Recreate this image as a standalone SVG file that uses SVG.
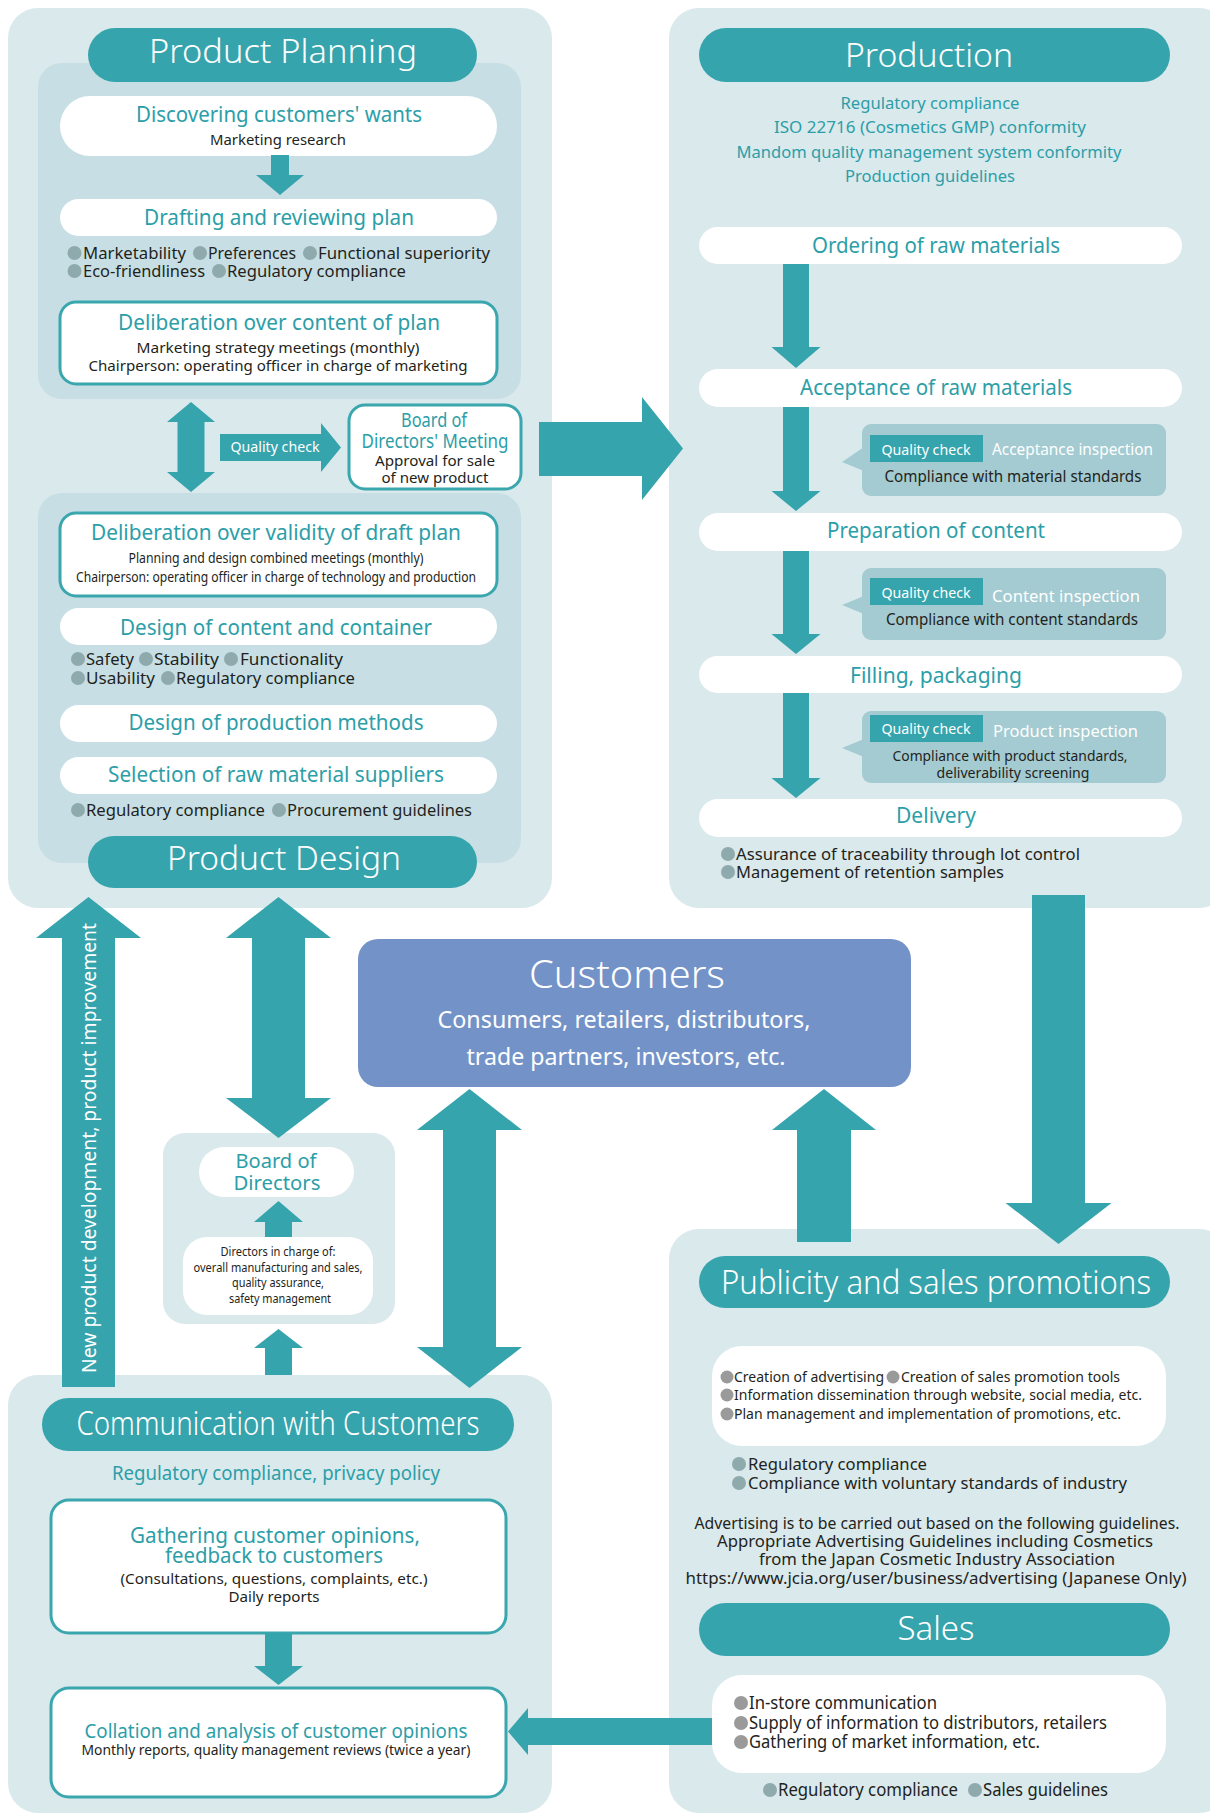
<svg xmlns="http://www.w3.org/2000/svg" width="1210" height="1814" viewBox="0 0 1210 1814">
<style>
text { font-family: "Noto Sans", "Open Sans", "DejaVu Sans", sans-serif; }
.c { text-anchor: middle; }
.h { font-size: 33px; fill: #fff; text-anchor: middle; font-weight: 300; }
.tl { fill: #2c9ea8; }
.k { fill: #231f20; }
.w { fill: #fff; }
.outer { fill: #d9e9ec; }
.inner { fill: #c7dfe4; }
.pill { fill: #fff; }
.bx { fill: #fff; stroke: #3aa6ae; stroke-width: 3; }
.hdr { fill: #36a4ad; }
.qc { fill: #a3cbd1; }
.tag { fill: #36a4ad; }
.dot { fill: #8eaaad; }
.gdot { fill: #9a9a9a; }
.arrow { fill: #36a4ad; }
.f21 { font-size: 21px; }
.f19 { font-size: 19px; }
.f17 { font-size: 17px; }
.f16 { font-size: 16px; }
.f15 { font-size: 15px; }
.f14 { font-size: 14px; }
.f13 { font-size: 13px; }
</style>

<!-- Containers -->
<g id="product-planning-panel">
  <rect class="outer" x="8" y="8" width="544" height="900" rx="30"/>
  <rect class="inner" x="38" y="63" width="483" height="336" rx="24"/>
  <rect class="inner" x="38" y="493" width="483" height="370" rx="24"/>
</g>
<g id="production-panel">
  <rect class="outer" x="669" y="8" width="560" height="900" rx="30"/>
</g>
<g id="board-panel">
  <rect class="outer" x="163" y="1133" width="232" height="191" rx="22"/>
</g>
<g id="communication-panel">
  <rect class="outer" x="8" y="1375" width="544" height="438" rx="30"/>
</g>
<g id="publicity-panel">
  <rect class="outer" x="669" y="1229" width="560" height="584" rx="30"/>
</g>

<!-- Product Planning -->
<g id="product-planning-header">
  <rect class="hdr" x="88" y="28" width="389" height="54" rx="27"/>
  <text class="h" x="283" y="63" textLength="268" lengthAdjust="spacingAndGlyphs">Product Planning</text>
</g>
<g id="discovering">
  <rect class="pill" x="60" y="96" width="437" height="60" rx="30"/>
  <text class="c tl f21" x="279" y="122" textLength="286" lengthAdjust="spacingAndGlyphs">Discovering customers' wants</text>
  <text class="c k f15" x="278" y="145" textLength="136" lengthAdjust="spacingAndGlyphs">Marketing research</text>
</g>
<g id="drafting">
  <rect class="pill" x="60" y="199" width="437" height="37" rx="18.5"/>
  <text class="c tl f21" x="279" y="225" textLength="270" lengthAdjust="spacingAndGlyphs">Drafting and reviewing plan</text>
  <circle class="dot" cx="74.5" cy="253" r="7"/>
  <text class="k f17" x="83" y="259" textLength="103" lengthAdjust="spacingAndGlyphs">Marketability</text>
  <circle class="dot" cx="200" cy="253" r="7"/>
  <text class="k f17" x="208" y="259" textLength="88" lengthAdjust="spacingAndGlyphs">Preferences</text>
  <circle class="dot" cx="310" cy="253" r="7"/>
  <text class="k f17" x="318" y="259" textLength="172" lengthAdjust="spacingAndGlyphs">Functional superiority</text>
  <circle class="dot" cx="74.5" cy="271" r="7"/>
  <text class="k f17" x="83" y="277" textLength="122" lengthAdjust="spacingAndGlyphs">Eco-friendliness</text>
  <circle class="dot" cx="219" cy="271" r="7"/>
  <text class="k f17" x="227" y="277" textLength="179" lengthAdjust="spacingAndGlyphs">Regulatory compliance</text>
</g>
<g id="deliberation-content">
  <rect class="bx" x="60" y="302" width="437" height="82" rx="16"/>
  <text class="c tl f21" x="279" y="330" textLength="322" lengthAdjust="spacingAndGlyphs">Deliberation over content of plan</text>
  <text class="c k f15" x="278" y="353" textLength="283" lengthAdjust="spacingAndGlyphs">Marketing strategy meetings (monthly)</text>
  <text class="c k f15" x="278" y="371" textLength="379" lengthAdjust="spacingAndGlyphs">Chairperson: operating officer in charge of marketing</text>
</g>
<g id="bod-meeting">
  <rect class="bx" x="349" y="405" width="172" height="84" rx="16"/>
  <text class="c tl f19" x="434" y="427" textLength="66" lengthAdjust="spacingAndGlyphs">Board of</text>
  <text class="c tl f19" x="435" y="448" textLength="147" lengthAdjust="spacingAndGlyphs">Directors' Meeting</text>
  <text class="c k f15" x="435" y="466" textLength="120" lengthAdjust="spacingAndGlyphs">Approval for sale</text>
  <text class="c k f15" x="435" y="483" textLength="107" lengthAdjust="spacingAndGlyphs">of new product</text>
</g>

<!-- Product Design -->
<g id="deliberation-validity">
  <rect class="bx" x="60" y="513" width="437" height="83" rx="16"/>
  <text class="c tl f21" x="276" y="540" textLength="370" lengthAdjust="spacingAndGlyphs">Deliberation over validity of draft plan</text>
  <text class="c k f14" x="276" y="563" textLength="295" lengthAdjust="spacingAndGlyphs">Planning and design combined meetings (monthly)</text>
  <text class="c k f14" x="276" y="582" textLength="400" lengthAdjust="spacingAndGlyphs">Chairperson: operating officer in charge of technology and production</text>
</g>
<g id="design-content">
  <rect class="pill" x="60" y="608" width="437" height="37" rx="18.5"/>
  <text class="c tl f21" x="276" y="635" textLength="312" lengthAdjust="spacingAndGlyphs">Design of content and container</text>
  <circle class="dot" cx="78" cy="659" r="7"/>
  <text class="k f17" x="86" y="665" textLength="48" lengthAdjust="spacingAndGlyphs">Safety</text>
  <circle class="dot" cx="146" cy="659" r="7"/>
  <text class="k f17" x="154" y="665" textLength="65" lengthAdjust="spacingAndGlyphs">Stability</text>
  <circle class="dot" cx="231" cy="659" r="7"/>
  <text class="k f17" x="240" y="665" textLength="103" lengthAdjust="spacingAndGlyphs">Functionality</text>
  <circle class="dot" cx="78" cy="678" r="7"/>
  <text class="k f17" x="86" y="684" textLength="69" lengthAdjust="spacingAndGlyphs">Usability</text>
  <circle class="dot" cx="168" cy="678" r="7"/>
  <text class="k f17" x="176" y="684" textLength="179" lengthAdjust="spacingAndGlyphs">Regulatory compliance</text>
</g>
<g id="design-production">
  <rect class="pill" x="60" y="705" width="437" height="37" rx="18.5"/>
  <text class="c tl f21" x="276" y="730" textLength="295" lengthAdjust="spacingAndGlyphs">Design of production methods</text>
</g>
<g id="selection-suppliers">
  <rect class="pill" x="60" y="757" width="437" height="37" rx="18.5"/>
  <text class="c tl f21" x="276" y="782" textLength="336" lengthAdjust="spacingAndGlyphs">Selection of raw material suppliers</text>
  <circle class="dot" cx="78" cy="810" r="7"/>
  <text class="k f17" x="86" y="816" textLength="179" lengthAdjust="spacingAndGlyphs">Regulatory compliance</text>
  <circle class="dot" cx="279" cy="810" r="7"/>
  <text class="k f17" x="287" y="816" textLength="185" lengthAdjust="spacingAndGlyphs">Procurement guidelines</text>
</g>
<g id="product-design-header">
  <rect class="hdr" x="88" y="836" width="389" height="52" rx="26"/>
  <text class="h" x="284" y="870" textLength="234" lengthAdjust="spacingAndGlyphs">Product Design</text>
</g>

<!-- Production -->
<g id="production-header">
  <rect class="hdr" x="699" y="28" width="471" height="54" rx="27"/>
  <text class="h" x="929" y="67" textLength="168" lengthAdjust="spacingAndGlyphs">Production</text>
  <text class="c tl f17" x="930" y="109" textLength="179" lengthAdjust="spacingAndGlyphs">Regulatory compliance</text>
  <text class="c tl f17" x="930" y="133" textLength="312" lengthAdjust="spacingAndGlyphs">ISO 22716 (Cosmetics GMP) conformity</text>
  <text class="c tl f17" x="929" y="158" textLength="385" lengthAdjust="spacingAndGlyphs">Mandom quality management system conformity</text>
  <text class="c tl f17" x="930" y="182" textLength="170" lengthAdjust="spacingAndGlyphs">Production guidelines</text>
</g>
<g id="ordering">
  <rect class="pill" x="699" y="227" width="483" height="37" rx="18.5"/>
  <text class="c tl f21" x="936" y="253" textLength="248" lengthAdjust="spacingAndGlyphs">Ordering of raw materials</text>
</g>
<g id="acceptance">
  <rect class="pill" x="699" y="369" width="483" height="38" rx="19"/>
  <text class="c tl f21" x="936" y="395" textLength="272" lengthAdjust="spacingAndGlyphs">Acceptance of raw materials</text>
</g>
<g id="qc-acceptance">
  <polygon class="qc" points="864,447 842,462 864,471"/>
  <rect class="qc" x="862" y="424" width="304" height="72" rx="9"/>
  <rect class="tag" x="870" y="435" width="113" height="27"/>
  <text class="c w f15" x="926" y="455" textLength="89" lengthAdjust="spacingAndGlyphs">Quality check</text>
  <text class="w f17" x="992" y="455" textLength="161" lengthAdjust="spacingAndGlyphs">Acceptance inspection</text>
  <text class="c k f16" x="1013" y="482" textLength="257" lengthAdjust="spacingAndGlyphs">Compliance with material standards</text>
</g>
<g id="preparation">
  <rect class="pill" x="699" y="513" width="483" height="38" rx="19"/>
  <text class="c tl f21" x="936" y="538" textLength="218" lengthAdjust="spacingAndGlyphs">Preparation of content</text>
</g>
<g id="qc-content">
  <polygon class="qc" points="864,596 842,605 864,614"/>
  <rect class="qc" x="862" y="568" width="304" height="72" rx="9"/>
  <rect class="tag" x="870" y="578" width="113" height="27"/>
  <text class="c w f15" x="926" y="598" textLength="89" lengthAdjust="spacingAndGlyphs">Quality check</text>
  <text class="w f17" x="992" y="602" textLength="148" lengthAdjust="spacingAndGlyphs">Content inspection</text>
  <text class="c k f16" x="1012" y="625" textLength="252" lengthAdjust="spacingAndGlyphs">Compliance with content standards</text>
</g>
<g id="filling">
  <rect class="pill" x="699" y="656" width="483" height="37" rx="18.5"/>
  <text class="c tl f21" x="936" y="683" textLength="172" lengthAdjust="spacingAndGlyphs">Filling, packaging</text>
</g>
<g id="qc-product">
  <polygon class="qc" points="864,739 842,748 864,757"/>
  <rect class="qc" x="862" y="711" width="304" height="72" rx="9"/>
  <rect class="tag" x="870" y="715" width="113" height="27"/>
  <text class="c w f15" x="926" y="734" textLength="89" lengthAdjust="spacingAndGlyphs">Quality check</text>
  <text class="w f17" x="993" y="737" textLength="145" lengthAdjust="spacingAndGlyphs">Product inspection</text>
  <text class="c k f15" x="1010" y="761" textLength="235" lengthAdjust="spacingAndGlyphs">Compliance with product standards,</text>
  <text class="c k f15" x="1013" y="778" textLength="153" lengthAdjust="spacingAndGlyphs">deliverability screening</text>
</g>
<g id="delivery">
  <rect class="pill" x="699" y="799" width="483" height="38" rx="19"/>
  <text class="c tl f21" x="936" y="823" textLength="80" lengthAdjust="spacingAndGlyphs">Delivery</text>
  <circle class="dot" cx="728" cy="854" r="7"/>
  <text class="k f17" x="736" y="860" textLength="344" lengthAdjust="spacingAndGlyphs">Assurance of traceability through lot control</text>
  <circle class="dot" cx="728" cy="872" r="7"/>
  <text class="k f17" x="736" y="878" textLength="268" lengthAdjust="spacingAndGlyphs">Management of retention samples</text>
</g>

<!-- Customers -->
<g id="customers">
  <rect x="358" y="939" width="553" height="148" rx="20" fill="#7393c8"/>
  <text class="c w" x="627" y="988" font-size="38" font-weight="300" textLength="196" lengthAdjust="spacingAndGlyphs">Customers</text>
  <text class="c w" x="624" y="1028" font-size="23" textLength="373" lengthAdjust="spacingAndGlyphs">Consumers, retailers, distributors,</text>
  <text class="c w" x="626" y="1065" font-size="23" textLength="319" lengthAdjust="spacingAndGlyphs">trade partners, investors, etc.</text>
</g>

<!-- Board of Directors -->
<g id="board-of-directors">
  <rect class="pill" x="199" y="1147" width="155" height="50" rx="25"/>
  <text class="c tl f19" x="276" y="1168" textLength="81" lengthAdjust="spacingAndGlyphs">Board of</text>
  <text class="c tl f19" x="277" y="1190" textLength="87" lengthAdjust="spacingAndGlyphs">Directors</text>
</g>
<g id="directors-in-charge">
  <rect class="pill" x="183" y="1237" width="190" height="78" rx="24"/>
  <text class="c k f13" x="278" y="1256" textLength="115" lengthAdjust="spacingAndGlyphs">Directors in charge of:</text>
  <text class="c k f13" x="278" y="1272" textLength="169" lengthAdjust="spacingAndGlyphs">overall manufacturing and sales,</text>
  <text class="c k f13" x="278" y="1287" textLength="92" lengthAdjust="spacingAndGlyphs">quality assurance,</text>
  <text class="c k f13" x="280" y="1303" textLength="102" lengthAdjust="spacingAndGlyphs">safety management</text>
</g>

<!-- Communication with Customers -->
<g id="communication-header">
  <rect class="hdr" x="42" y="1398" width="472" height="53" rx="26.5"/>
  <text class="h" x="278" y="1435" textLength="403" lengthAdjust="spacingAndGlyphs">Communication with Customers</text>
  <text class="c tl f19" x="276" y="1480" textLength="328" lengthAdjust="spacingAndGlyphs">Regulatory compliance, privacy policy</text>
</g>
<g id="gathering">
  <rect class="bx" x="51" y="1500" width="455" height="133" rx="18"/>
  <text class="c tl f21" x="275" y="1543" textLength="290" lengthAdjust="spacingAndGlyphs">Gathering customer opinions,</text>
  <text class="c tl f21" x="274" y="1563" textLength="218" lengthAdjust="spacingAndGlyphs">feedback to customers</text>
  <text class="c k f15" x="274" y="1584" textLength="307" lengthAdjust="spacingAndGlyphs">(Consultations, questions, complaints, etc.)</text>
  <text class="c k f15" x="274" y="1602" textLength="91" lengthAdjust="spacingAndGlyphs">Daily reports</text>
</g>
<g id="collation">
  <rect class="bx" x="51" y="1688" width="455" height="109" rx="18"/>
  <text class="c tl" x="276" y="1738" font-size="20" textLength="383" lengthAdjust="spacingAndGlyphs">Collation and analysis of customer opinions</text>
  <text class="c k f15" x="276" y="1755" textLength="389" lengthAdjust="spacingAndGlyphs">Monthly reports, quality management reviews (twice a year)</text>
</g>

<!-- Publicity and sales promotions -->
<g id="publicity-header">
  <rect class="hdr" x="699" y="1256" width="471" height="52" rx="26"/>
  <text class="h" x="936" y="1294" textLength="430" lengthAdjust="spacingAndGlyphs">Publicity and sales promotions</text>
</g>
<g id="publicity-activities">
  <rect class="pill" x="712" y="1346" width="454" height="100" rx="30"/>
  <circle class="gdot" cx="727" cy="1377" r="6.5"/>
  <text class="k f15" x="734" y="1382" textLength="150" lengthAdjust="spacingAndGlyphs">Creation of advertising</text>
  <circle class="gdot" cx="893" cy="1377" r="6.5"/>
  <text class="k f15" x="901" y="1382" textLength="219" lengthAdjust="spacingAndGlyphs">Creation of sales promotion tools</text>
  <circle class="gdot" cx="727" cy="1395" r="6.5"/>
  <text class="k f15" x="734" y="1400" textLength="408" lengthAdjust="spacingAndGlyphs">Information dissemination through website, social media, etc.</text>
  <circle class="gdot" cx="727" cy="1414" r="6.5"/>
  <text class="k f15" x="734" y="1419" textLength="387" lengthAdjust="spacingAndGlyphs">Plan management and implementation of promotions, etc.</text>
</g>
<g id="publicity-compliance">
  <circle class="dot" cx="739" cy="1464" r="7"/>
  <text class="k f17" x="748" y="1470" textLength="179" lengthAdjust="spacingAndGlyphs">Regulatory compliance</text>
  <circle class="dot" cx="739" cy="1483" r="7"/>
  <text class="k f17" x="748" y="1489" textLength="379" lengthAdjust="spacingAndGlyphs">Compliance with voluntary standards of industry</text>
  <text class="c k f17" x="937" y="1529" textLength="485" lengthAdjust="spacingAndGlyphs">Advertising is to be carried out based on the following guidelines.</text>
  <text class="c k f17" x="935" y="1547" textLength="436" lengthAdjust="spacingAndGlyphs">Appropriate Advertising Guidelines including Cosmetics</text>
  <text class="c k f17" x="937" y="1565" textLength="356" lengthAdjust="spacingAndGlyphs">from the Japan Cosmetic Industry Association</text>
  <text class="c k f17" x="936" y="1584" textLength="501" lengthAdjust="spacingAndGlyphs">https://www.jcia.org/user/business/advertising (Japanese Only)</text>
</g>

<!-- Sales -->
<g id="sales-header">
  <rect class="hdr" x="699" y="1603" width="471" height="53" rx="26.5"/>
  <text class="h" x="936" y="1640" textLength="77" lengthAdjust="spacingAndGlyphs">Sales</text>
</g>
<g id="sales-activities">
  <rect class="pill" x="712" y="1675" width="454" height="98" rx="30"/>
  <circle class="gdot" cx="741" cy="1703" r="7"/>
  <text class="k" x="749" y="1709" font-size="18" textLength="188" lengthAdjust="spacingAndGlyphs">In-store communication</text>
  <circle class="gdot" cx="741" cy="1723" r="7"/>
  <text class="k" x="749" y="1729" font-size="18" textLength="358" lengthAdjust="spacingAndGlyphs">Supply of information to distributors, retailers</text>
  <circle class="gdot" cx="741" cy="1742" r="7"/>
  <text class="k" x="749" y="1748" font-size="18" textLength="291" lengthAdjust="spacingAndGlyphs">Gathering of market information, etc.</text>
</g>
<g id="sales-compliance">
  <circle class="dot" cx="770" cy="1790" r="7"/>
  <text class="k" x="778" y="1796" font-size="18" textLength="180" lengthAdjust="spacingAndGlyphs">Regulatory compliance</text>
  <circle class="dot" cx="975" cy="1790" r="7"/>
  <text class="k" x="983" y="1796" font-size="18" textLength="125" lengthAdjust="spacingAndGlyphs">Sales guidelines</text>
</g>

<!-- Connectors -->
<g id="connectors">
  <polygon class="arrow" points="271,155 289,155 289,175 304,175 280,195 256,175 271,175"/>
  <polygon class="arrow" points="191,402 215,422 204.5,422 204.5,472 215,472 191,492 167,472 177.5,472 177.5,422 167,422"/>
  <polygon class="arrow" points="220,434 321,434 321,423 341,447.5 321,472 321,461 220,461"/>
  <text class="c w f15" x="275" y="452" textLength="89" lengthAdjust="spacingAndGlyphs">Quality check</text>
  <polygon class="arrow" points="539,422 642,422 642,397 683,448.5 642,500 642,476 539,476"/>
  <polygon class="arrow" points="783,264 809,264 809,347 820.5,347 796,368 771.5,347 783,347"/>
  <polygon class="arrow" points="783,407 809,407 809,491 820.5,491 796,511 771.5,491 783,491"/>
  <polygon class="arrow" points="783,551 809,551 809,634 820.5,634 796,654 771.5,634 783,634"/>
  <polygon class="arrow" points="783,693 809,693 809,778 820.5,778 796,798 771.5,778 783,778"/>
  <polygon class="arrow" points="1032,895 1085,895 1085,1203 1111.5,1203 1058.5,1244 1005.5,1203 1032,1203"/>
  <polygon class="arrow" points="824,1089 876,1130 851,1130 851,1242 797,1242 797,1130 772,1130"/>
  <polygon class="arrow" points="469.5,1089 522,1130 496,1130 496,1347 522,1347 469.5,1388 417,1347 443,1347 443,1130 417,1130"/>
  <polygon class="arrow" points="278.5,897 331,938 305,938 305,1098 331,1098 278.5,1138 226,1098 252,1098 252,938 226,938"/>
  <polygon class="arrow" points="88.5,897 141,938 115,938 115,1387 62,1387 62,938 36,938"/>
  <text class="c w" transform="translate(96,1148) rotate(-90)" x="0" y="0" font-size="20" textLength="450" lengthAdjust="spacingAndGlyphs">New product development, product improvement</text>
  <polygon class="arrow" points="278.5,1201 303,1222 292,1222 292,1237 265,1237 265,1222 254,1222"/>
  <polygon class="arrow" points="278.5,1329 303,1348 292,1348 292,1375 265,1375 265,1348 254,1348"/>
  <polygon class="arrow" points="265,1633 292,1633 292,1666 303,1666 278.5,1685 254,1666 265,1666"/>
  <polygon class="arrow" points="508,1731.5 528,1708 528,1718 712,1718 712,1745 528,1745 528,1755"/>
</g>
</svg>
